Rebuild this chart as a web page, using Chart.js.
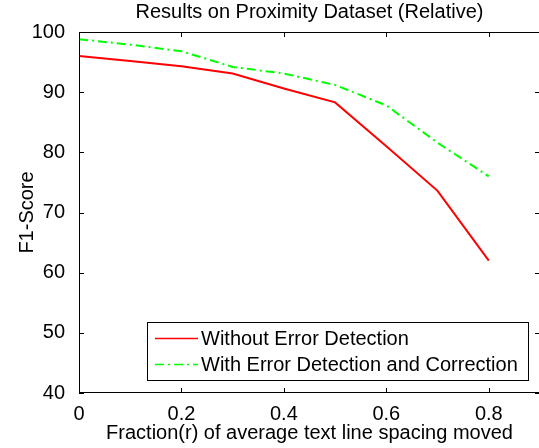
<!DOCTYPE html>
<html>
<head>
<meta charset="utf-8">
<script src="https://cdn.jsdelivr.net/npm/chart.js@4/dist/chart.umd.min.js"></script>
<style>
html,body{margin:0;padding:0;background:#fff;overflow:hidden;width:539px;height:448px;}
canvas{display:block;}
</style>
</head>
<body>
<canvas id="c" width="541" height="448" style="width:541px;height:448px"></canvas>
<script>
const xValues = [0, 0.1, 0.2, 0.3, 0.4, 0.5, 0.6, 0.7, 0.8];
const withoutDetection = [96.0, 95.2, 94.3, 93.1, 90.6, 88.3, 81.0, 73.6, 62.0];
const withDetection = [98.8, 97.9, 96.8, 94.2, 93.1, 91.2, 87.8, 81.6, 76.0];
const xTicks = [0, 0.2, 0.4, 0.6, 0.8];
const yTicks = [40, 50, 60, 70, 80, 90, 100];
const seriesLabels = ['Without Error Detection', 'With Error Detection and Correction'];
const chartTitle = 'Results on Proximity Dataset (Relative)';
const xTitle = 'Fraction(r) of average text line spacing moved';
const yTitle = 'F1-Score';

const FONT = 'Liberation Sans, Arial, sans-serif';

const framePlugin = {
  id: 'frame',
  afterDraw(chart) {
    const ctx = chart.ctx, a = chart.chartArea;
    const xs = chart.scales.x, ys = chart.scales.y;
    ctx.save();
    ctx.strokeStyle = '#000';
    ctx.lineWidth = 1;
    ctx.beginPath();
    ctx.moveTo(a.left + 0.5, a.top + 0.5); ctx.lineTo(a.right - 0.5, a.top + 0.5);
    ctx.lineTo(a.right - 0.5, a.bottom - 0.5); ctx.lineTo(a.left + 0.5, a.bottom - 0.5);
    ctx.closePath();
    ctx.stroke();
    const tl = 5;
    ctx.beginPath();
    xTicks.forEach(v => {
      const px = Math.round(xs.getPixelForValue(v)) + 0.5;
      ctx.moveTo(px, a.bottom); ctx.lineTo(px, a.bottom - tl);
      ctx.moveTo(px, a.top); ctx.lineTo(px, a.top + tl);
    });
    yTicks.forEach(v => {
      const py = Math.round(ys.getPixelForValue(v)) + 0.5;
      ctx.moveTo(a.left, py); ctx.lineTo(a.left + tl, py);
      ctx.moveTo(a.right, py); ctx.lineTo(a.right - tl, py);
    });
    ctx.stroke();

    // legend
    const lx = 147, ly = 322, lw = 381, lh = 58;
    ctx.fillStyle = '#fff';
    ctx.fillRect(lx, ly, lw, lh);
    ctx.strokeStyle = '#000';
    ctx.strokeRect(lx + 0.5, ly + 0.5, lw, lh);
    ctx.font = '20px ' + FONT;
    ctx.textBaseline = 'middle';
    ctx.textAlign = 'left';
    chart.data.datasets.forEach((ds, i) => {
      const cy = ly + 16 + i * 26;
      ctx.save();
      ctx.strokeStyle = ds.borderColor;
      ctx.lineWidth = 1.5;
      ctx.setLineDash(ds.borderDash || []);
      ctx.beginPath();
      ctx.moveTo(155, cy + 0.5); ctx.lineTo(198, cy + 0.5);
      ctx.stroke();
      ctx.restore();
      ctx.fillStyle = '#000';
      ctx.fillText(ds.label, 201, cy + 1);
    });
    ctx.restore();
  }
};

new Chart(document.getElementById('c'), {
  type: 'line',
  data: {
    datasets: [
      {
        label: seriesLabels[0],
        data: xValues.map((x, i) => ({x: x, y: withoutDetection[i]})),
        borderColor: '#ff0000',
        borderWidth: 2,
        pointRadius: 0,
        tension: 0,
        fill: false
      },
      {
        label: seriesLabels[1],
        data: xValues.map((x, i) => ({x: x, y: withDetection[i]})),
        borderColor: '#00ff00',
        borderWidth: 2,
        borderDash: [9, 4, 2, 4],
        pointRadius: 0,
        tension: 0,
        fill: false
      }
    ]
  },
  options: {
    responsive: false,
    animation: false,
    layout: {padding: {left: 0, right: 1, top: 0, bottom: 0}},
    plugins: {
      legend: {display: false},
      tooltip: {enabled: false},
      title: {
        display: true,
        fullSize: false,
        text: chartTitle,
        color: '#000',
        font: {family: FONT, size: 20, weight: 'normal'},
        padding: {top: 0, bottom: 8}
      }
    },
    scales: {
      x: {
        type: 'linear',
        min: 0, max: 0.9,
        grid: {display: false},
        border: {display: false},
        afterBuildTicks: s => { s.ticks = xTicks.map(v => ({value: v})); },
        afterFit: s => { s.height = 55; },
        ticks: {
          color: '#000', padding: 1, maxRotation: 0,
          font: {family: FONT, size: 20},
          callback: v => String(v)
        },
        title: {
          display: true, text: xTitle, color: '#000',
          font: {family: FONT, size: 20}, padding: {top: 0, bottom: 3}
        }
      },
      y: {
        min: 40, max: 100,
        grid: {display: false},
        border: {display: false},
        afterBuildTicks: s => { s.ticks = yTicks.map(v => ({value: v})); },
        afterFit: s => { s.width = 79; },
        ticks: {
          color: '#000', padding: 6,
          font: {family: FONT, size: 20}
        },
        title: {
          display: true, text: yTitle, color: '#000',
          font: {family: FONT, size: 20}, padding: {top: 15, bottom: 0}
        }
      }
    }
  },
  plugins: [framePlugin]
});
</script>
</body>
</html>
